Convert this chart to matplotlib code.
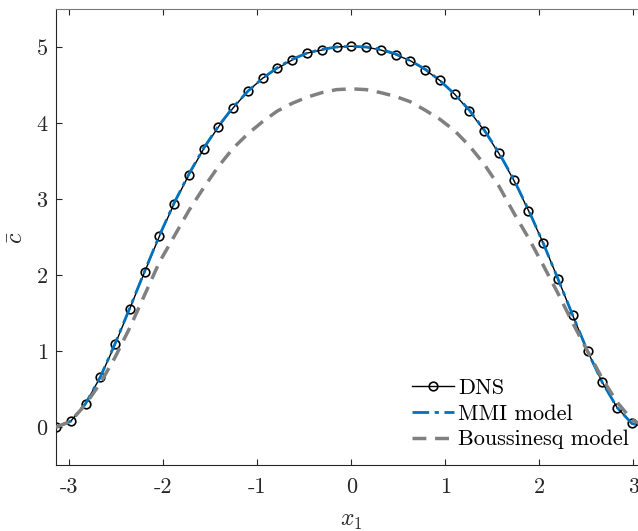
import numpy as np
import matplotlib
matplotlib.use('Agg')
import matplotlib.pyplot as plt

plt.rcParams['mathtext.fontset'] = 'cm'
plt.rcParams['font.family'] = 'serif'
plt.rcParams['font.serif'] = ['cmr10']
plt.rcParams['axes.formatter.use_mathtext'] = True

# sampling grid in x1 (41 points over one period)
x1 = np.linspace(-np.pi, np.pi, 41)

dns = [0.0, 0.08, 0.31, 0.66, 1.09, 1.56, 2.04, 2.51, 2.94, 3.32, 3.66, 3.95, 4.20, 4.42,
       4.59, 4.72, 4.83, 4.92, 4.96, 5.00, 5.01, 5.00, 4.96, 4.90, 4.82, 4.70, 4.56, 4.38,
       4.16, 3.90, 3.60, 3.25, 2.85, 2.42, 1.95, 1.47, 1.00, 0.59, 0.26, 0.05, 0.0]
mmi = [0.0, 0.08, 0.31, 0.66, 1.10, 1.57, 2.05, 2.52, 2.95, 3.33, 3.67, 3.96, 4.21, 4.42,
       4.59, 4.73, 4.84, 4.92, 4.97, 5.00, 5.01, 5.00, 4.97, 4.91, 4.82, 4.71, 4.56, 4.38,
       4.17, 3.91, 3.61, 3.26, 2.86, 2.42, 1.95, 1.47, 1.00, 0.59, 0.26, 0.05, 0.0]
bous = [0.0, 0.08, 0.30, 0.58, 0.92, 1.31, 1.74, 2.17, 2.51, 2.85, 3.15, 3.43, 3.67, 3.86,
        4.02, 4.16, 4.26, 4.34, 4.40, 4.44, 4.45, 4.44, 4.40, 4.35, 4.28, 4.17, 4.05, 3.90,
        3.70, 3.46, 3.17, 2.82, 2.49, 2.13, 1.76, 1.37, 1.00, 0.64, 0.33, 0.10, 0.0]

xticks = [-3, -2, -1, 0, 1, 2, 3]
yticks = [0, 1, 2, 3, 4, 5]

W, H = 638, 531
fig = plt.figure(figsize=(W / 100, H / 100), dpi=100)
# right edge of the axes lies just outside the image (x1 = pi)
ax = fig.add_axes([56 / W, (H - 465.3) / H, 590.6 / W, 456.3 / H])

ax.plot(x1, dns, '-', color='k', lw=1.0, marker='o', ms=6.2, mfc='none', mec='k', mew=1.2,
        label='DNS', zorder=2)
ax.plot(x1, mmi, color='#0072BD', lw=2.0, dashes=(6, 2, 1.5, 2), label='MMI model', zorder=3)
ax.plot(x1, bous, color='#808080', lw=2.5, dashes=(4, 2.5), label='Boussinesq model', zorder=4)

ax.set_xlim(-np.pi, np.pi)
ax.set_ylim(-0.5, 5.5)
ax.set_xticks(xticks)
ax.set_xticklabels([str(t) for t in xticks])
ax.set_yticks(yticks)
ax.set_yticklabels([str(t) for t in yticks])

for s in ax.spines.values():
    s.set_color('#262626')
    s.set_linewidth(0.8)
ax.spines['top'].set_color('#7a7a7a')
ax.tick_params(axis='both', direction='in', length=4.3, width=0.8, color='#262626',
               labelcolor='#262626', labelsize=16, top=True, right=True)
ax.tick_params(axis='x', pad=9)
ax.tick_params(axis='y', pad=6)

ax.set_xlabel('$x_1$', fontsize=17, color='#262626', labelpad=9)
ax.set_ylabel(r'$\bar{c}$', fontsize=17, color='#262626', labelpad=6)

ax.legend(loc='lower right', bbox_to_anchor=(0.970, 0.035), frameon=False, fontsize=16,
          handlelength=1.85, handletextpad=0.2, labelspacing=0.27, borderpad=0, borderaxespad=0)

fig.savefig('out.png', dpi=100)
